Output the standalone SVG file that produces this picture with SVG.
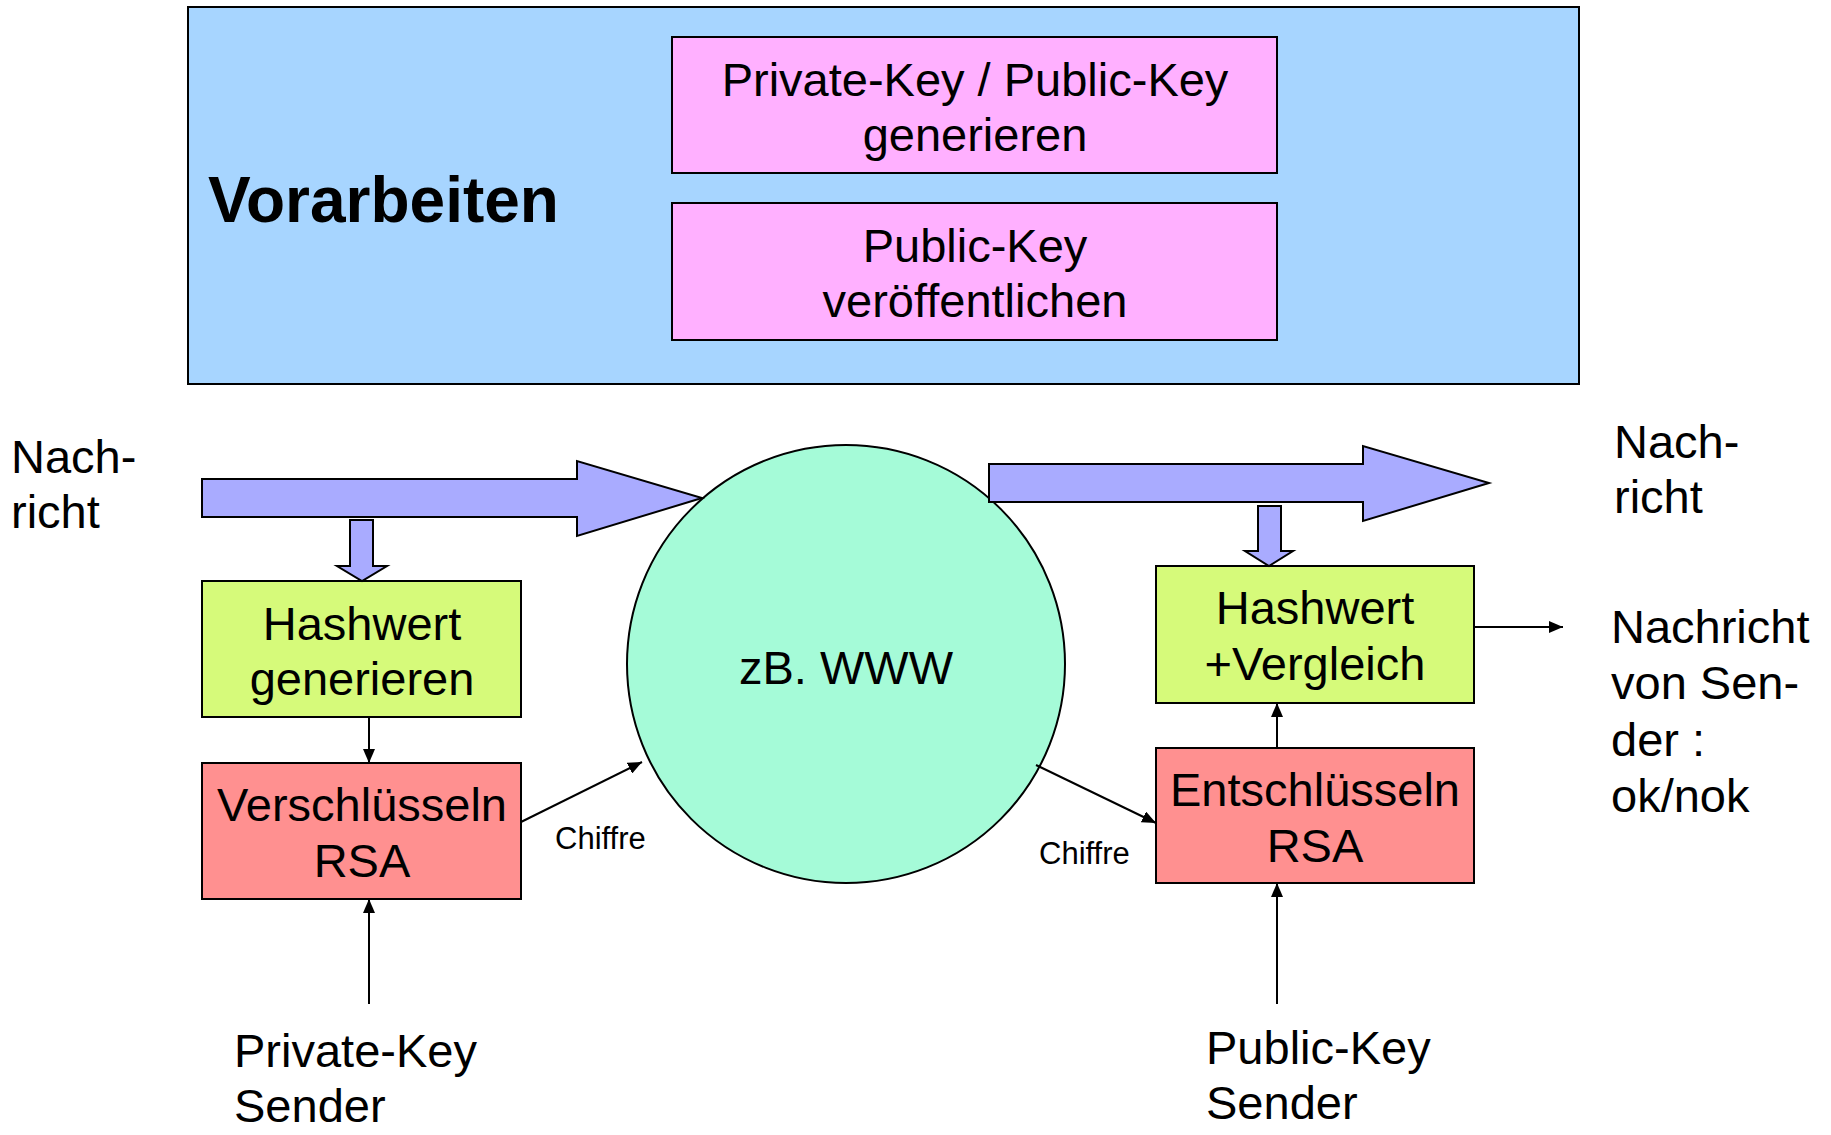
<svg xmlns="http://www.w3.org/2000/svg" width="1831" height="1135" viewBox="0 0 1831 1135">
  <style>
    text { font-family: "Liberation Sans", Arial, sans-serif; fill: #000; }
    .t { font-size: 47px; }
    .c { text-anchor: middle; }
    .small { font-size: 31px; }
    .title { font-size: 64px; font-weight: bold; }
    .box { stroke: #000; stroke-width: 2; }
    .fat { fill: #A9ABFF; stroke: #000; stroke-width: 2; stroke-linejoin: miter; }
    .conn { fill: none; stroke: #000; stroke-width: 2; marker-end: url(#head); }
  </style>
  <defs>
    <marker id="head" viewBox="0 0 14 12" refX="14" refY="6" markerWidth="14" markerHeight="12" markerUnits="userSpaceOnUse" orient="auto">
      <path d="M0,0 L14,6 L0,12 z" fill="#000"/>
    </marker>
  </defs>

  <rect width="1831" height="1135" fill="#fff"/>

  <!-- preparation panel -->
  <g id="vorarbeiten">
    <rect class="box" x="188" y="7" width="1391" height="377" fill="#A7D5FF"/>
    <text class="title" x="208" y="222">Vorarbeiten</text>
  </g>
  <g id="keys-generate">
    <rect class="box" x="672" y="37" width="605" height="136" fill="#FFB0FF"/>
    <text class="t c" x="975" y="96">Private-Key / Public-Key</text>
    <text class="t c" x="975" y="151">generieren</text>
  </g>
  <g id="key-publish">
    <rect class="box" x="672" y="203" width="605" height="137" fill="#FFB0FF"/>
    <text class="t c" x="975" y="262">Public-Key</text>
    <text class="t c" x="975" y="317">veröffentlichen</text>
  </g>

  <!-- message labels -->
  <g id="msg-in">
    <text class="t" x="11" y="473">Nach-</text>
    <text class="t" x="11" y="528">richt</text>
  </g>
  <g id="msg-out">
    <text class="t" x="1614" y="458">Nach-</text>
    <text class="t" x="1614" y="513">richt</text>
  </g>
  <g id="result">
    <text class="t" x="1611" y="643">Nachricht</text>
    <text class="t" x="1611" y="699">von Sen-</text>
    <text class="t" x="1611" y="756">der :</text>
    <text class="t" x="1611" y="812">ok/nok</text>
  </g>

  <!-- network -->
  <g id="www">
    <circle class="box" cx="846" cy="664" r="219" fill="#A5FBD8"/>
    <text class="t c" x="846" y="684">zB. WWW</text>
  </g>

  <!-- sender side -->
  <g id="hash-send">
    <rect class="box" x="202" y="581" width="319" height="136" fill="#D6FA7A"/>
    <text class="t c" x="362" y="640">Hashwert</text>
    <text class="t c" x="362" y="695">generieren</text>
  </g>
  <g id="encrypt">
    <rect class="box" x="202" y="763" width="319" height="136" fill="#FF9090"/>
    <text class="t c" x="362" y="821">Verschlüsseln</text>
    <text class="t c" x="362" y="877">RSA</text>
  </g>
  <g id="private-key">
    <text class="t" x="234" y="1067">Private-Key</text>
    <text class="t" x="234" y="1122">Sender</text>
  </g>

  <!-- receiver side -->
  <g id="hash-compare">
    <rect class="box" x="1156" y="566" width="318" height="137" fill="#D6FA7A"/>
    <text class="t c" x="1315" y="624">Hashwert</text>
    <text class="t c" x="1315" y="680">+Vergleich</text>
  </g>
  <g id="decrypt">
    <rect class="box" x="1156" y="748" width="318" height="135" fill="#FF9090"/>
    <text class="t c" x="1315" y="806">Entschlüsseln</text>
    <text class="t c" x="1315" y="862">RSA</text>
  </g>
  <g id="public-key">
    <text class="t" x="1206" y="1064">Public-Key</text>
    <text class="t" x="1206" y="1119">Sender</text>
  </g>

  <!-- connectors -->
  <g id="connectors">
    <polygon class="fat" points="202,479 577,479 577,461 702,498 577,536 577,517 202,517"/>
    <polygon class="fat" points="989,464 1363,464 1363,446 1489,483 1363,521 1363,502 989,502"/>
    <polygon class="fat" points="350,520 373,520 373,566 387,566 362,581 337,566 350,566"/>
    <polygon class="fat" points="1258,506 1281,506 1281,551 1293,551 1269,566 1245,551 1258,551"/>
    <line class="conn" x1="369" y1="717" x2="369" y2="763"/>
    <line class="conn" x1="369" y1="1004" x2="369" y2="899"/>
    <line class="conn" x1="521" y1="822" x2="642" y2="762"/>
    <line class="conn" x1="1036" y1="765" x2="1156" y2="823"/>
    <line class="conn" x1="1277" y1="748" x2="1277" y2="703"/>
    <line class="conn" x1="1277" y1="1004" x2="1277" y2="883"/>
    <line class="conn" x1="1474" y1="627" x2="1563" y2="627"/>
    <text class="small" x="555" y="849">Chiffre</text>
    <text class="small" x="1039" y="864">Chiffre</text>
  </g>
</svg>
